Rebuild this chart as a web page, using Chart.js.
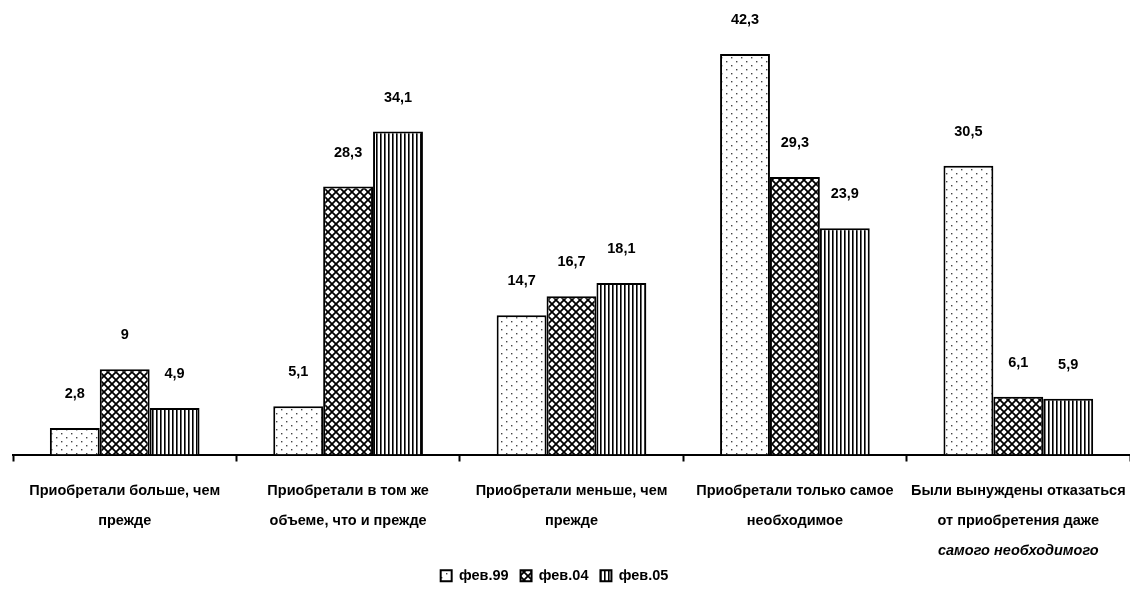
<!DOCTYPE html>
<html>
<head>
<meta charset="utf-8">
<script src="https://cdn.jsdelivr.net/npm/chart.js@4"></script>
<style>
  html, body { margin: 0; padding: 0; background: #fff; }
  #wrap { width: 1130px; height: 593px; }
</style>
</head>
<body>
<div id="wrap"><canvas id="chart"></canvas></div>
<script>
// Categories (multi-line labels) and series
const categories = [
    ['Приобретали больше, чем', 'прежде'],
    ['Приобретали в том же', 'объеме, что и прежде'],
    ['Приобретали меньше, чем', 'прежде'],
    ['Приобретали только самое', 'необходимое'],
    ['Были вынуждены отказаться', 'от приобретения даже', 'самого необходимого']
];
// which label line is set in italics in the original: [category, line]
const italicLines = [[4, 2]];
const seriesNames = ['фев.99', 'фев.04', 'фев.05'];
const feb99 = [2.8, 5.1, 14.7, 42.3, 30.5];
const feb04 = [9, 28.3, 16.7, 29.3, 6.1];
const feb05 = [4.9, 34.1, 18.1, 23.9, 5.9];

const FONT = '"Liberation Sans", Arial, sans-serif';
const isItalic = (i, k) => italicLines.some(p => p[0] === i && p[1] === k);

// --- hatch patterns, like the old b/w print ---
function makePattern(w, h, paint) {
    const c = document.createElement('canvas');
    c.width = w; c.height = h;
    const g = c.getContext('2d');
    g.fillStyle = '#fff';
    g.fillRect(0, 0, w, h);
    paint(g);
    return g.createPattern(c, 'repeat');
}

const dots = makePattern(10, 8, g => {
    g.fillStyle = '#444';
    g.fillRect(1, 1, 1.4, 1.4);
    g.fillRect(6, 5, 1.4, 1.4);
});

const crossHatch = makePattern(8, 8, g => {
    g.strokeStyle = '#000';
    g.lineWidth = 1.8;
    g.beginPath();
    g.moveTo(-1, -1); g.lineTo(9, 9);
    g.moveTo(9, -1); g.lineTo(-1, 9);
    g.stroke();
});

const stripes = makePattern(4, 4, g => {
    g.fillStyle = '#000';
    g.fillRect(0, 0, 1.6, 4);
});

// value labels above every bar
const valueLabels = {
    id: 'valueLabels',
    afterDatasetsDraw(chart) {
        const ctx = chart.ctx;
        ctx.save();
        ctx.fillStyle = '#000';
        ctx.font = 'bold 14.5px ' + FONT;
        ctx.textAlign = 'center';
        ctx.textBaseline = 'middle';
        chart.data.datasets.forEach((ds, i) => {
            chart.getDatasetMeta(i).data.forEach((bar, j) => {
                const txt = String(ds.data[j]).replace('.', ',');
                ctx.fillText(txt, bar.x, bar.y - 34);
            });
        });
        ctx.restore();
    }
};

// italic label lines, placed where the library put the other lines
const italicLabels = {
    id: 'italicLabels',
    afterDraw(chart) {
        const scale = chart.scales.x;
        const items = scale.getLabelItems();
        const ctx = chart.ctx;
        ctx.save();
        ctx.fillStyle = '#000';
        italicLines.forEach(([i, k]) => {
            const it = items[i];
            if (!it) return;
            const lh = it.font.lineHeight;
            ctx.font = 'italic bold ' + it.font.size + 'px ' + FONT;
            ctx.textAlign = it.options.textAlign;
            ctx.textBaseline = it.options.textBaseline;
            const [x, y] = it.options.translation;
            ctx.fillText(categories[i][k], x, y + it.textOffset + k * lh);
        });
        ctx.restore();
    }
};

// the legend sits a little left of centre in the original
const legendShift = {
    id: 'legendShift',
    afterLayout(chart) {
        const lg = chart.legend;
        if (!lg) return;
        lg.left -= 17;
        lg.right -= 17;
    }
};

new Chart(document.getElementById('chart'), {
    type: 'bar',
    data: {
        labels: categories,
        datasets: [
            { label: seriesNames[0], data: feb99, backgroundColor: dots },
            { label: seriesNames[1], data: feb04, backgroundColor: crossHatch },
            { label: seriesNames[2], data: feb05, backgroundColor: stripes }
        ].map(d => Object.assign(d, {
            borderColor: '#000',
            borderWidth: 2,
            borderSkipped: 'bottom',
            barPercentage: 1,
            categoryPercentage: 0.67
        }))
    },
    options: {
        responsive: true,
        maintainAspectRatio: false,
        animation: false,
        layout: { padding: { left: 13, right: 0, top: 0, bottom: 0 } },
        scales: {
            x: {
                grid: {
                    display: true,
                    drawOnChartArea: false,
                    drawTicks: true,
                    tickLength: 7,
                    tickWidth: 2,
                    tickColor: '#000',
                    offset: true
                },
                border: { display: true, color: '#000', width: 2 },
                ticks: {
                    color: '#000',
                    padding: 14,
                    maxRotation: 0,
                    autoSkip: false,
                    font: { family: FONT, size: 14.5, weight: 'bold', lineHeight: 2.07 },
                    callback: (v, i) => categories[i].filter((_, k) => !isItalic(i, k))
                },
                afterFit: s => {
                    s.height = 102;
                    s.paddingLeft = 0;
                    s.paddingRight = 0;
                }
            },
            y: {
                display: false,
                min: 0,
                max: 48
            }
        },
        plugins: {
            legend: {
                position: 'bottom',
                labels: {
                    color: '#000',
                    boxWidth: 11,
                    boxHeight: 11,
                    padding: 12,
                    font: { family: FONT, size: 14.5, weight: 'bold' }
                }
            },
            tooltip: { enabled: false }
        }
    },
    plugins: [valueLabels, italicLabels, legendShift]
});
</script>
</body>
</html>
